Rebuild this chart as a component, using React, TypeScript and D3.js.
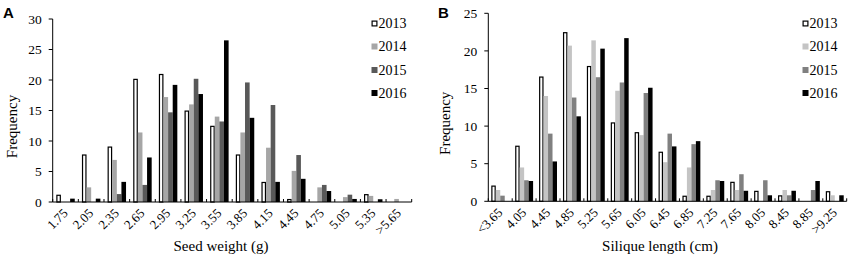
import React from "react";
import * as d3 from "d3";

const seriesNames = ["2013", "2014", "2015", "2016"];

const catsA = ["1.75", "2.05", "2.35", "2.65", "2.95", "3.25", "3.55", "3.85", "4.15", "4.45", "4.75", "5.05", "5.35", ">5.65"];
const a2013 = [1.2, 7.8, 9.1, 20.2, 21.0, 15.0, 12.5, 7.8, 3.3, 0.5, 0, 0, 1.3, 0];
const a2014 = [0, 2.4, 6.9, 11.4, 17.2, 16.0, 14.0, 11.4, 8.9, 5.1, 2.4, 0.8, 1.0, 0.5];
const a2015 = [0, 0, 1.3, 2.8, 14.7, 20.2, 13.2, 19.6, 15.9, 7.7, 2.8, 1.2, 0, 0];
const a2016 = [0.55, 0.55, 3.3, 7.3, 19.2, 17.7, 26.5, 13.8, 3.3, 3.8, 1.8, 0.5, 0.45, 0];
const ticksA = [0, 5, 10, 15, 20, 25, 30];

const catsB = ["<3.65", "4.05", "4.45", "4.85", "5.25", "5.65", "6.05", "6.45", "6.85", "7.25", "7.65", "8.05", "8.45", "8.85", ">9.25"];
const b2013 = [2.1, 7.4, 16.6, 22.5, 18.0, 10.5, 9.2, 6.6, 0.75, 0.75, 2.6, 1.4, 0.8, 0, 1.35];
const b2014 = [1.5, 4.5, 14.0, 20.7, 21.4, 14.7, 8.8, 5.2, 4.5, 1.5, 1.5, 0, 1.5, 0, 0.8];
const b2015 = [0.75, 2.8, 9.0, 13.8, 16.5, 15.8, 14.4, 9.0, 7.6, 2.8, 3.6, 2.8, 0.8, 1.5, 0];
const b2016 = [0, 2.7, 5.3, 11.3, 20.3, 21.7, 15.1, 7.3, 8.0, 2.7, 1.4, 0.8, 1.4, 2.7, 0.8];
const ticksB = [0, 5, 10, 15, 20, 25];

const serif = "'Liberation Serif', 'Times New Roman', serif";

type PanelProps = {
  letter: string;
  letterX: number;
  cats: string[];
  series: number[][];
  colors: string[];
  ticks: number[];
  x0: number;
  x1: number;
  y0: number;
  y1: number;
  ymax: number;
  pad: number;
  xTitle: string;
  xTitleX: number;
  yTitleX: number;
  legendX: number;
};

function Panel(p: PanelProps) {
  const x = d3.scaleBand<string>().domain(p.cats).range([p.x0, p.x1]).paddingInner(p.pad).paddingOuter(p.pad / 2);
  const xs = d3.scaleBand<string>().domain(seriesNames).range([0, x.bandwidth()]).padding(0);
  const y = d3.scaleLinear().domain([0, p.ymax]).range([p.y0, p.y1]);
  const step = x.step();
  const boundaries = d3.range(p.cats.length + 1).map((i) => p.x0 + i * step);
  const legendY = [23.5, 46.5, 70, 93];
  return (
    <g>
      <text x={p.letterX} y={18} fontFamily="'Liberation Sans', Arial, sans-serif" fontWeight="bold" fontSize={15}>
        {p.letter}
      </text>
      {/* bars */}
      {p.cats.map((c, i) => (
        <g key={c}>
          {p.series.map((vals, s) => {
            const v = vals[i];
            if (v <= 0) return null;
            const bx = (x(c) as number) + (xs(seriesNames[s]) as number);
            const bw = xs.bandwidth();
            const top = y(v);
            if (s === 0) {
              return (
                <rect key={s} x={bx + 0.6} y={top + 0.6} width={bw - 1.2} height={Math.max(0, p.y0 - top - 0.6)}
                  fill="#fff" stroke="#000" strokeWidth={1.2} />
              );
            }
            return <rect key={s} x={bx} y={top} width={bw} height={p.y0 - top} fill={p.colors[s]} />;
          })}
        </g>
      ))}
      {/* y axis */}
      <line x1={p.x0} x2={p.x0} y1={p.y0} y2={y(p.ymax)} stroke="#000" strokeWidth={1} />
      {p.ticks.map((t) => (
        <g key={t}>
          <line x1={p.x0 - 4} x2={p.x0} y1={y(t)} y2={y(t)} stroke="#000" strokeWidth={1} />
          <text x={p.x0 - 11} y={y(t)} dy="0.35em" textAnchor="end" fontFamily={serif} fontSize={13.5}>
            {t}
          </text>
        </g>
      ))}
      {/* x axis */}
      <line x1={p.x0} x2={p.x1} y1={p.y0} y2={p.y0} stroke="#000" strokeWidth={1} />
      {boundaries.map((bx, i) => (
        <line key={i} x1={bx} x2={bx} y1={p.y0} y2={p.y0 - 3} stroke="#000" strokeWidth={1} />
      ))}
      {p.cats.map((c) => {
        const cx = (x(c) as number) + x.bandwidth() / 2 + 3;
        const cy = p.y0 + 12;
        return (
          <text key={c} x={cx} y={cy} transform={`rotate(-45 ${cx} ${cy})`} textAnchor="end"
            fontFamily={serif} fontSize={13}>
            {c}
          </text>
        );
      })}
      <text x={p.xTitleX} y={251} textAnchor="middle" fontFamily={serif} fontSize={15}>
        {p.xTitle}
      </text>
      <text x={0} y={0} transform={`translate(${p.yTitleX},${(p.y0 + y(p.ymax)) / 2 + 16}) rotate(-90)`}
        textAnchor="middle" fontFamily={serif} fontSize={15}>
        Frequency
      </text>
      {/* legend */}
      {seriesNames.map((n, s) => (
        <g key={n}>
          {s === 0 ? (
            <rect x={p.legendX + 0.6} y={legendY[s] - 2.4} width={4.8} height={4.8} fill="#fff" stroke="#000" strokeWidth={1.2} />
          ) : (
            <rect x={p.legendX} y={legendY[s] - 3} width={6} height={6} fill={p.colors[s]} />
          )}
          <text x={p.legendX + 7} y={legendY[s]} dy="0.35em" fontFamily={serif} fontSize={14}>
            {n}
          </text>
        </g>
      ))}
    </g>
  );
}

export default function App() {
  return (
    <svg width={856} height={257} style={{ position: "absolute", left: 0, top: 0, background: "#fff" }}>
      <rect width={856} height={257} fill="#fff" />
      <Panel letter="A" letterX={3} cats={catsA} series={[a2013, a2014, a2015, a2016]}
        colors={["#fff", "#a6a6a6", "#595959", "#000"]} ticks={ticksA}
        x0={52.7} x1={411.7} y0={202} y1={19} ymax={30} pad={0.28}
        xTitle="Seed weight (g)" xTitleX={221} yTitleX={17} legendX={371.5} />
      <Panel letter="B" letterX={438} cats={catsB} series={[b2013, b2014, b2015, b2016]}
        colors={["#fff", "#c4c4c4", "#808080", "#000"]} ticks={ticksB}
        x0={488.3} x1={846.7} y0={201.3} y1={13.3} ymax={25} pad={0.25}
        xTitle="Silique length (cm)" xTitleX={660} yTitleX={450} legendX={802.5} />
    </svg>
  );
}
